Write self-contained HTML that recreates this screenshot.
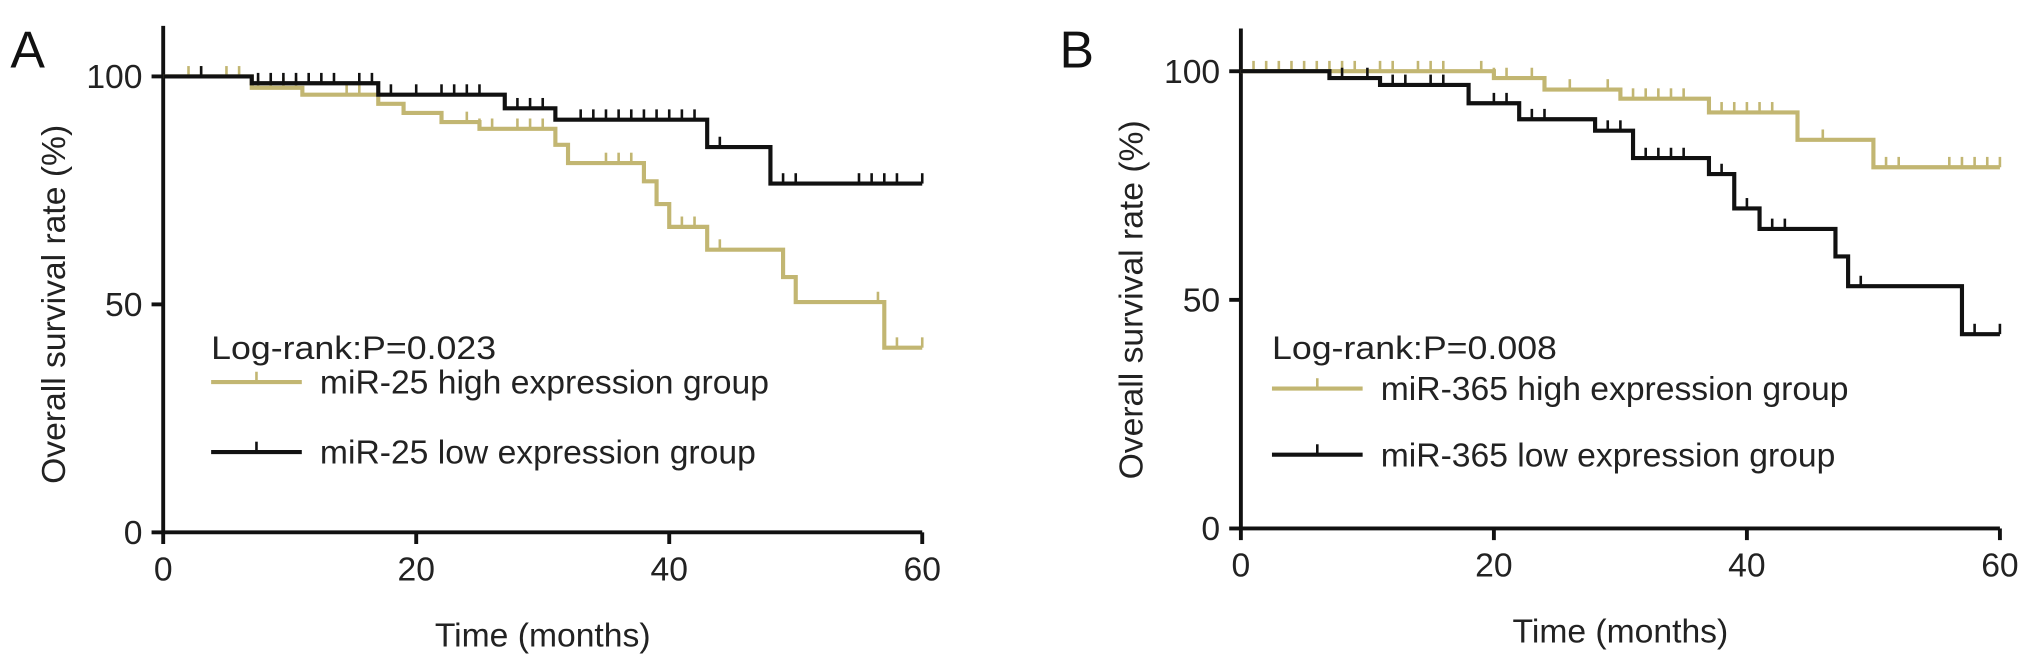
<!DOCTYPE html>
<html><head><meta charset="utf-8"><style>
body{margin:0;background:#fff}
svg{display:block;font-family:"Liberation Sans",Arial,sans-serif}
</style></head><body>
<svg id="chart" width="2031" height="669" viewBox="0 0 1568 516.5" preserveAspectRatio="none"></svg>
<script>
// Panel A data
const aLowT=[0,7,17,27,31,43,48,60];
const aLowS=[100,98.5,96,93,90.5,84.5,76.5,76.5];
const aHighT=[0,7,11,17,19,22,25,31,32,38,39,40,43,49,50,57,60];
const aHighS=[100,97.5,96,94,92,90,88.5,85,81,77,72,67,62,56,50.5,40.5,40.5];
const aLowCens=[3,7.5,8.5,9.5,10.5,11.5,12.5,13.5,15.5,16.5,18,20,22,23,24,25,28,29,30,33,34,35,36,37,38,39,40,41,42,44,49,50,55,56,57,58,60];
const aHighCens=[2,3,5,6,7.5,8.5,9.5,10.5,14.5,15.5,24,25,26,28,29,30,35,36,37,41,42,43,44,50,56.5,58,60];
// Panel B data
const bHighT=[0,20,24,30,37,44,50,60];
const bHighS=[100,98.5,96,94,91,85,79,79];
const bLowT=[0,7,11,18,22,28,31,37,39,41,47,48,57,60];
const bLowS=[100,98.5,97,93,89.5,87,81,77.5,70,65.5,59.5,53,42.5,42.5];
const bHighCens=[1,2,3,4,5,6,7,8,9,11,12,14,15,16,19,20,21,23,24,26,29,30,31,32,33,34,35,38,39,40,41,42,46,51,52,56,57,58,59,60];
const bLowCens=[8,10,12,13,15,16,20,21,23,24,29,30,32,33,34,35,38,40,42,43,47,49,58,60];
const xTicks=[0,20,40,60];
const yTicks=[0,50,100];

const NS="http://www.w3.org/2000/svg";
const svg=document.getElementById('chart');
const TAN="#c2b672", BLK="#111";
function mk(tag,attrs,parent){const e=document.createElementNS(NS,tag);for(const k in attrs)e.setAttribute(k,attrs[k]);(parent||svg).appendChild(e);return e;}
function survAt(T,S,t){let v=S[0];for(let i=0;i<T.length;i++){if(T[i]<=t)v=S[i];}return v;}

function panel(cfg){
  const g=mk('g',{});
  
  
  const X=t=>cfg.x0+t*(cfg.x1-cfg.x0)/60;
  const Y=v=>cfg.y0-v*(cfg.y0-cfg.y100)/100;
  const ax=mk('path',{d:`M${cfg.x0} ${cfg.ytop}V${cfg.y0}H${cfg.x1}`,stroke:BLK,'stroke-width':3,fill:'none'},g);
  
  yTicks.forEach(v=>{
    const l=mk('line',{x1:cfg.x0-9,x2:cfg.x0,y1:Y(v),y2:Y(v),stroke:BLK,'stroke-width':3},g);
    
    const t=mk('text',{x:cfg.x0-16,y:Y(v)+9,'text-anchor':'end','font-size':26,fill:'#222'},g);
    t.textContent=v;
  });
  xTicks.forEach(v=>{
    const l=mk('line',{x1:X(v),x2:X(v),y1:cfg.y0,y2:cfg.y0+9,stroke:BLK,'stroke-width':3},g);
    
    const t=mk('text',{x:X(v),y:cfg.y0+37,'text-anchor':'middle','font-size':26,fill:'#222'},g);
    t.textContent=v;
  });
  cfg.series.forEach(s=>{
    let d=`M${X(s.T[0])} ${Y(s.S[0])}`;
    for(let i=1;i<s.T.length;i++){d+=`H${X(s.T[i])}V${Y(s.S[i])}`;}
    const p=mk('path',{d,stroke:s.c,'stroke-width':3.2,fill:'none'},g);
    
    s.cens.forEach(t=>{
      const v=survAt(s.T,s.S,t);
      const c=mk('line',{x1:X(t),x2:X(t),y1:Y(v),y2:Y(v)-8,stroke:s.c,'stroke-width':2},g);
      
    });
  });
  const yt=mk('text',{transform:`translate(${cfg.ytx},${(cfg.y0+cfg.y100)/2}) rotate(-90)`,'text-anchor':'middle','font-size':26,fill:'#222'},g);
  yt.textContent='Overall survival rate (%)';
  const xt=mk('text',{x:(cfg.x0+cfg.x1)/2,y:cfg.y0+88,'text-anchor':'middle','font-size':26,fill:'#222'},g);
  xt.textContent='Time (months)';
  const lt=mk('text',{x:cfg.lx,y:277,'font-size':25,fill:'#222',textLength:220,lengthAdjust:'spacingAndGlyphs'},g);
  lt.textContent=cfg.pval;
  cfg.legend.forEach((e,i)=>{
    const yy=cfg.ly[i];
    const lg=mk('g',{},g);
    mk('line',{x1:cfg.lx,x2:cfg.lx+70,y1:yy,y2:yy,stroke:e.c,'stroke-width':3.2},lg);
    mk('line',{x1:cfg.lx+35,x2:cfg.lx+35,y1:yy,y2:yy-8,stroke:e.c,'stroke-width':2},lg);
    const tx=mk('text',{x:cfg.lx+84,y:yy+9,'font-size':26,fill:'#222'},lg);tx.textContent=e.label;
  });
  const L=mk('text',{x:cfg.letterX,y:52,'font-size':40,fill:'#111'},g);
  L.textContent=cfg.letter;
}
panel({name:'panel-a',letter:'A',letterX:8,x0:126,x1:712,y0:411,y100:59,ytop:20,ytx:50,lx:163,ly:[295,349],pval:'Log-rank:P=0.023',
  series:[{name:'high-expression-curve',T:aHighT,S:aHighS,cens:aHighCens,c:TAN},{name:'low-expression-curve',T:aLowT,S:aLowS,cens:aLowCens,c:BLK}],
  legend:[{c:TAN,label:'miR-25 high expression group'},{c:BLK,label:'miR-25 low expression group'}]});
panel({name:'panel-b',letter:'B',letterX:818,x0:958,x1:1544,y0:408,y100:55,ytop:22,ytx:882,lx:982,ly:[300,351],pval:'Log-rank:P=0.008',
  series:[{name:'high-expression-curve',T:bHighT,S:bHighS,cens:bHighCens,c:TAN},{name:'low-expression-curve',T:bLowT,S:bLowS,cens:bLowCens,c:BLK}],
  legend:[{c:TAN,label:'miR-365 high expression group'},{c:BLK,label:'miR-365 low expression group'}]});
</script>
</body></html>
